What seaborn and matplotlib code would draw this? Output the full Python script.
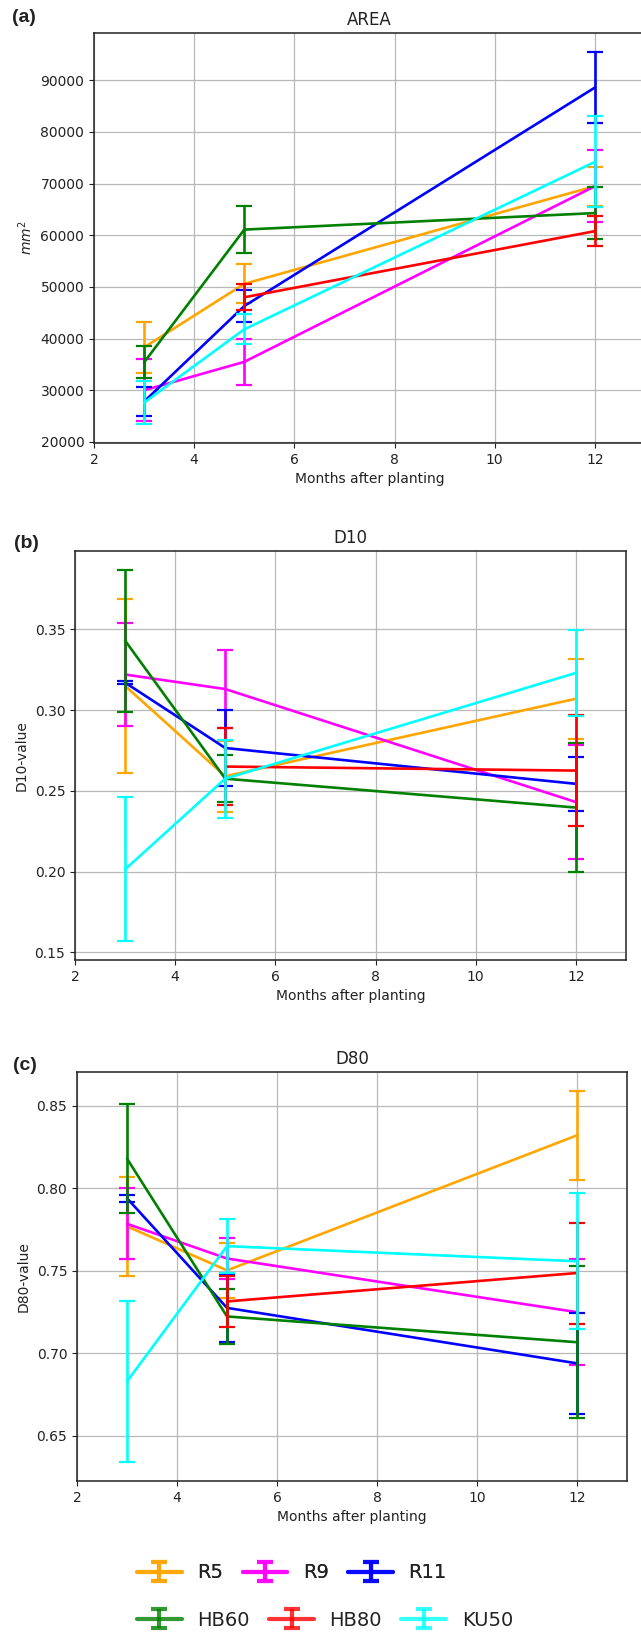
import numpy as np
import matplotlib
matplotlib.use("Agg")
import matplotlib.pyplot as plt
import seaborn as sns

# ---------------- data ----------------
months = [3, 5, 12]
cultivars = ["R5", "R9", "R11", "HB60", "HB80", "KU50"]
colors = ["orange", "magenta", "blue", "green", "red", "cyan"]
nan = np.nan

area_mean = [
    [38300, 50600, 69500],
    [30000, 35500, 69500],
    [27800, 46300, 88600],
    [35400, 61100, 64300],
    [nan, 48000, 60800],
    [27600, 41800, 74200],
]
area_err = [
    [4900, 3800, 3800],
    [6000, 4500, 7000],
    [2800, 3100, 6950],
    [3100, 4600, 5100],
    [nan, 2500, 2900],
    [4200, 2900, 8800],
]

d10_mean = [
    [0.315, 0.259, 0.307],
    [0.322, 0.313, 0.243],
    [0.317, 0.2765, 0.2543],
    [0.343, 0.2575, 0.2396],
    [nan, 0.265, 0.2625],
    [0.2013, 0.2575, 0.323],
]
d10_err = [
    [0.054, 0.022, 0.0248],
    [0.032, 0.024, 0.0355],
    [0.001, 0.0233, 0.0166],
    [0.044, 0.0146, 0.0402],
    [nan, 0.0237, 0.0343],
    [0.0446, 0.0242, 0.0265],
]

d80_mean = [
    [0.777, 0.7503, 0.8321],
    [0.7785, 0.7575, 0.725],
    [0.794, 0.7276, 0.694],
    [0.818, 0.7224, 0.7068],
    [nan, 0.7315, 0.7487],
    [0.683, 0.765, 0.7558],
]
d80_err = [
    [0.030, 0.0166, 0.0271],
    [0.0215, 0.0127, 0.0319],
    [0.002, 0.0207, 0.0307],
    [0.033, 0.0168, 0.046],
    [nan, 0.0156, 0.0306],
    [0.049, 0.0165, 0.0412],
]

titles = ["AREA", "D10", "D80"]
ylabels = ["$mm^2$", "D10-value", "D80-value"]
panel_tags = ["(a)", "(b)", "(c)"]
xlabel = "Months after planting"

# ---------------- style ----------------
sns.set_style("ticks")
plt.rcParams.update({
    "font.family": ["DejaVu Sans"],
    "axes.edgecolor": "#222222",
    "axes.linewidth": 1.1,
    "grid.color": "#b8b8b8",
    "grid.linewidth": 0.9,
    "xtick.color": "#222222",
    "ytick.color": "#222222",
    "text.color": "#222222",
    "axes.labelcolor": "#222222",
})

W, H = 641, 1634
fig = plt.figure(figsize=(W / 100, H / 100), dpi=100)

# axes boxes in pixels: left, right, top, bottom
boxes = [
    (94, 645, 33, 443),
    (75, 626, 551, 960),
    (77, 627, 1072, 1481),
]
tag_pos = [(12, 18), (14, 543), (13, 1065)]
means = [area_mean, d10_mean, d80_mean]
errs = [area_err, d10_err, d80_err]

for k in range(3):
    l, r, t, b = boxes[k]
    ax = fig.add_axes([l / W, 1 - b / H, (r - l) / W, (b - t) / H])
    ax.grid(True)
    ax.set_axisbelow(True)
    for i, name in enumerate(cultivars):
        y = np.array(means[k][i], dtype=float)
        e = np.array(errs[k][i], dtype=float)
        x = np.array(months, dtype=float)
        ok = np.isfinite(y)
        sns.lineplot(x=x[ok], y=y[ok], color=colors[i], lw=1.9, ax=ax,
                     zorder=3 + i)
        ax.errorbar(x[ok], y[ok], yerr=e[ok], fmt="none", ecolor=colors[i],
                    elinewidth=1.9, capsize=6, capthick=1.6, zorder=3 + i)
    ax.set_xlim(2, 13)
    ax.set_xticks([2, 4, 6, 8, 10, 12])
    ax.set_title(titles[k], fontsize=12)
    ax.set_xlabel(xlabel, fontsize=10)
    ax.set_ylabel(ylabels[k], fontsize=10)
    ax.tick_params(labelsize=10)
    tx, ty = tag_pos[k]
    fig.text(tx / W, 1 - ty / H, panel_tags[k], fontsize=14, fontweight="bold",
             family=["Liberation Sans", "DejaVu Sans"], ha="left", va="center")

# ---------------- legend ----------------
ax_leg = fig.add_axes([0.0, 0.0, 0.01, 0.01])
ax_leg.axis("off")
ax_leg.set_xlim(10, 11)
handles = []
for i, name in enumerate(cultivars):
    h = ax_leg.errorbar([0], [0], yerr=[1], color=colors[i], lw=3,
                        elinewidth=3, capsize=6, capthick=3, alpha=0.8,
                        label=name)
    handles.append(h)

leg_kw = dict(ncol=3, frameon=False, fontsize=14, handlelength=2.3,
              handletextpad=0.8, columnspacing=1.0, borderpad=0,
              borderaxespad=0, loc="center left")
leg1 = fig.legend(handles[:3], cultivars[:3],
                  bbox_to_anchor=(137 / W, 1 - 1573 / H), **leg_kw)
leg2 = fig.legend(handles[3:], cultivars[3:],
                  bbox_to_anchor=(137 / W, 1 - 1620 / H), **leg_kw)
fig.add_artist(leg1)

fig.savefig("out.png", dpi=100)
